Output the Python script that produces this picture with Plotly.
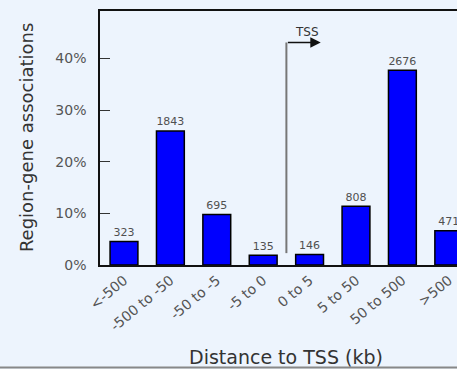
import plotly.graph_objects as go

# Region-gene associations binned by distance to the TSS (kb)
categories = ["<-500", "-500 to -50", "-50 to -5", "-5 to 0", "0 to 5", "5 to 50", "50 to 500", ">500"]
counts = [323, 1843, 695, 135, 146, 808, 2676, 471]
y_ticks = [0, 10, 20, 30, 40]

total = sum(counts)
percent = [c / total * 100 for c in counts]
xpos = list(range(len(categories)))

FONT = "DejaVu Sans"
BG = "#EDF4FD"

fig = go.Figure()
fig.add_trace(go.Bar(
    x=xpos,
    y=percent,
    marker=dict(color="#0000FF", line=dict(color="#000", width=1.5)),
    hoverinfo="skip",
))
# Count labels above each bar (invisible markers give a small gap)
fig.add_trace(go.Scatter(
    x=xpos, y=percent,
    mode="markers+text",
    marker=dict(size=3, opacity=0),
    text=[str(c) for c in counts],
    textposition="top center",
    textfont=dict(family=FONT, size=11, color="#505050"),
    cliponaxis=False,
    hoverinfo="skip",
))

# TSS marker: bent arrow between the upstream and downstream bins
tss_x, y_low, y_high, arrow_end = 3.5, 2.3, 43.1, 4.24
fig.add_shape(type="line", x0=tss_x, x1=tss_x, y0=y_low, y1=y_high,
              xref="x", yref="y", line=dict(color="#777", width=2))
fig.add_annotation(x=arrow_end, y=y_high, ax=tss_x, ay=y_high, xref="x", yref="y",
                   axref="x", ayref="y", text="", showarrow=True,
                   arrowhead=2, arrowsize=1.3, arrowwidth=1.6, arrowcolor="#111")
fig.add_annotation(x=3.95, y=45.2, xref="x", yref="y", text="TSS", showarrow=False,
                   font=dict(family=FONT, size=12, color="#333"))

# Axis titles placed as annotations
fig.add_annotation(x=3.5, y=-0.362, xref="x", yref="paper", text="Distance to TSS (kb)",
                   showarrow=False, yanchor="middle",
                   font=dict(family=FONT, size=19, color="#333"))
fig.add_annotation(x=-0.207, y=0.5, xref="paper", yref="paper", text="Region-gene associations",
                   showarrow=False, textangle=-90, xanchor="center", yanchor="middle",
                   font=dict(family=FONT, size=18, color="#333"))

# Thin frame line along the bottom of the figure
fig.add_shape(type="line", xref="paper", yref="paper", x0=-0.4, x1=1.1, y0=-0.404, y1=-0.404,
              line=dict(color="#888", width=2))

fig.update_layout(
    width=457, height=369,
    margin=dict(l=100, r=0, t=11, b=104),
    paper_bgcolor=BG, plot_bgcolor=BG,
    showlegend=False,
    bargap=0.4,
    font=dict(family=FONT),
    xaxis=dict(
        range=[-0.517, 7.177],
        tickmode="array", tickvals=xpos, ticktext=categories,
        tickangle=-40, ticks="",
        tickfont=dict(family=FONT, size=14, color="#555"),
        showline=True, linecolor="#111", linewidth=1.5, mirror=True,
        showgrid=False, zeroline=False,
    ),
    yaxis=dict(
        range=[0, 49.2],
        tickmode="array", tickvals=y_ticks, ticktext=[f"{v}%" for v in y_ticks],
        ticks="inside", ticklen=10, tickcolor="#333",
        ticklabelstandoff=9,
        tickfont=dict(family=FONT, size=14, color="#555"),
        showline=True, linecolor="#111", linewidth=1.5,
        showgrid=False, zeroline=False,
    ),
)

fig.write_html("out.html")
